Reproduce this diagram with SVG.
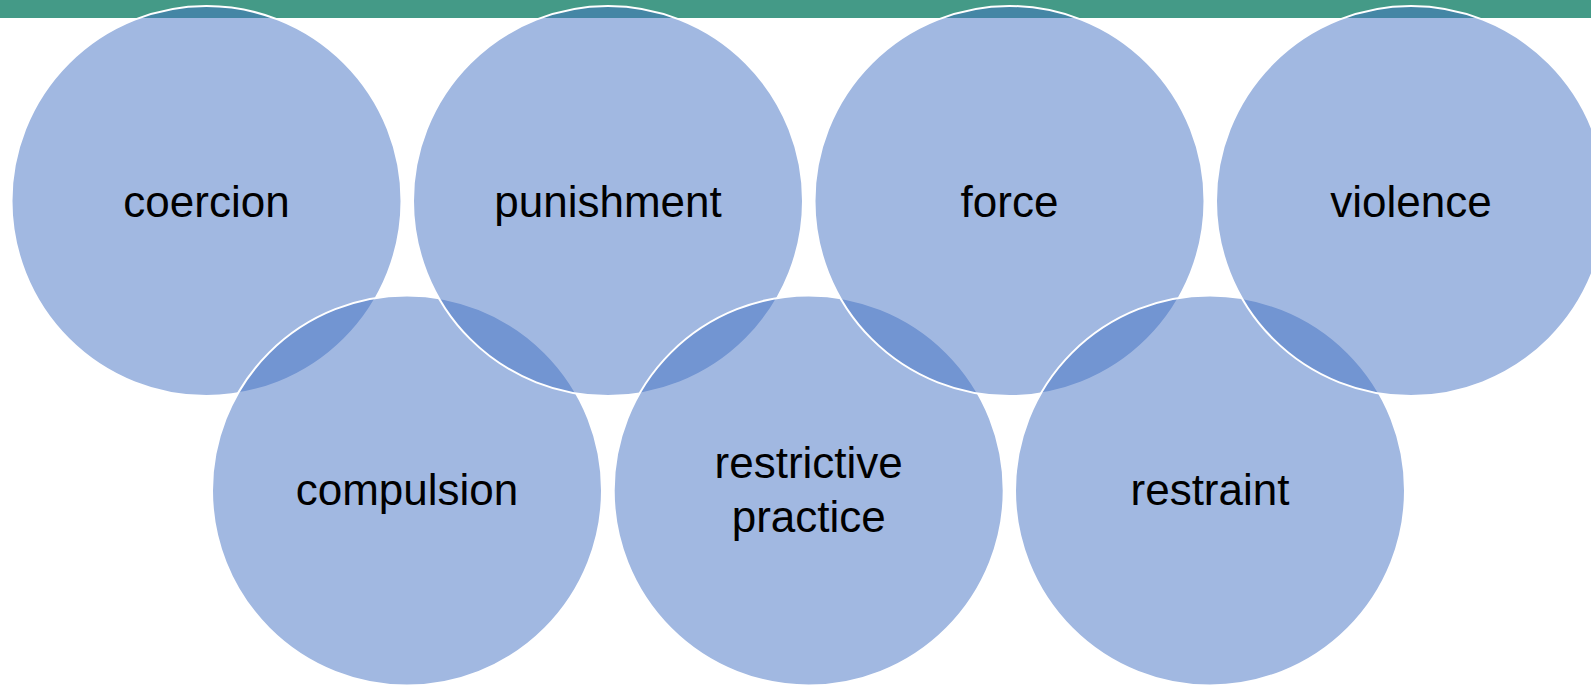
<svg xmlns="http://www.w3.org/2000/svg" width="1591" height="685" viewBox="0 0 1591 685">
<style>
.c{fill:#4472C4;fill-opacity:0.5;stroke:#FFFFFF;stroke-width:2}
.t{font-family:"Liberation Sans",Arial,sans-serif;font-size:44px;fill:#000;text-anchor:middle}
</style>
<rect x="0" y="0" width="1591" height="18" fill="#449A87"/>
<g id="connectors"></g>
<g id="n-coercion"><circle class="c" cx="206.5" cy="201" r="195"/><text class="t" x="206.5" y="217">coercion</text></g>
<g id="n-compulsion"><circle class="c" cx="407" cy="490.5" r="195"/><text class="t" x="407" y="505">compulsion</text></g>
<g id="n-punishment"><circle class="c" cx="608" cy="201" r="195"/><text class="t" x="608" y="217">punishment</text></g>
<g id="n-restrictive"><circle class="c" cx="808.7" cy="490.5" r="195"/><text class="t" x="808.7" y="478">restrictive</text><text class="t" x="808.7" y="532">practice</text></g>
<g id="n-force"><circle class="c" cx="1009.5" cy="201" r="195"/><text class="t" x="1009.5" y="217">force</text></g>
<g id="n-restraint"><circle class="c" cx="1210" cy="490.5" r="195"/><text class="t" x="1210" y="505">restraint</text></g>
<g id="n-violence"><circle class="c" cx="1411" cy="201" r="195"/><text class="t" x="1411" y="217">violence</text></g>
</svg>
